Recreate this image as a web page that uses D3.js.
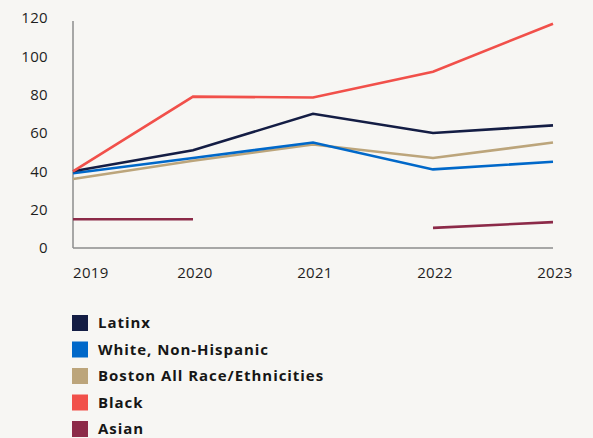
<!DOCTYPE html>
<html>
<head>
<meta charset="utf-8">
<script src="https://cdn.jsdelivr.net/npm/d3@7"></script>
<style>
  html, body { margin: 0; padding: 0; background: #f7f6f3; }
  svg { display: block; }
</style>
</head>
<body>
<svg id="chart" width="593" height="438"></svg>
<script>
// Rates by race/ethnicity, 2019–2023
const years = ["2019", "2020", "2021", "2022", "2023"];
const latinx = [40, 51, 70, 60, 64];
const white = [39, 47, 55, 41, 45];
const bostonAll = [36, 45.5, 54, 47, 55];
const black = [40, 79, 78.5, 92, 117];
const asian = [15, 15, null, 10.5, 13.5];
const yTicks = [0, 20, 40, 60, 80, 100, 120];

const seriesNames = ["Latinx", "White, Non-Hispanic", "Boston All Race/Ethnicities", "Black", "Asian"];
const seriesColors = ["#141d44", "#0068c9", "#bca57b", "#f1504a", "#8c2a48"];

const series = [
  { name: seriesNames[0], color: seriesColors[0], values: latinx },
  { name: seriesNames[1], color: seriesColors[1], values: white },
  { name: seriesNames[2], color: seriesColors[2], values: bostonAll },
  { name: seriesNames[3], color: seriesColors[3], values: black },
  { name: seriesNames[4], color: seriesColors[4], values: asian }
];

const svg = d3.select("#chart");
const plotLeft = 73, plotRight = 553, plotTop = 18, plotBottom = 248;
const fontFamily = "'Open Sans', 'Noto Sans', sans-serif";

const x = d3.scalePoint().domain(years).range([plotLeft, plotRight]);
const y = d3.scaleLinear().domain([0, 120]).range([plotBottom, plotTop]);

// Y axis labels
svg.append("g")
  .selectAll("text")
  .data(yTicks)
  .join("text")
  .attr("x", 48)
  .attr("y", d => y(d))
  .attr("dy", "0.35em")
  .attr("text-anchor", "end")
  .attr("font-family", fontFamily)
  .attr("font-size", 15)
  .attr("letter-spacing", "0.3px")
  .attr("fill", "#1e1e1e")
  .text(d => d);

// X axis labels
svg.append("g")
  .selectAll("text")
  .data(years)
  .join("text")
  .attr("x", (d, i) => i === 0 ? plotLeft : x(d) + 2)
  .attr("y", 278)
  .attr("text-anchor", (d, i) => i === 0 ? "start" : "middle")
  .attr("font-family", fontFamily)
  .attr("font-size", 15)
  .attr("letter-spacing", "0.3px")
  .attr("fill", "#1e1e1e")
  .text(d => d);

// Axis lines
svg.append("line")
  .attr("x1", plotLeft).attr("x2", plotLeft)
  .attr("y1", 21).attr("y2", plotBottom)
  .attr("stroke", "#8c8c8c").attr("stroke-width", 1.5);
svg.append("line")
  .attr("x1", plotLeft).attr("x2", plotRight)
  .attr("y1", plotBottom).attr("y2", plotBottom)
  .attr("stroke", "#8c8c8c").attr("stroke-width", 1.5);

// Series lines (gaps where data is missing)
const line = d3.line()
  .defined(d => d.v !== null)
  .x(d => x(d.year))
  .y(d => y(d.v));

const drawOrder = [4, 2, 1, 0, 3];
svg.append("g")
  .selectAll("path")
  .data(drawOrder.map(i => series[i]))
  .join("path")
  .attr("fill", "none")
  .attr("stroke", d => d.color)
  .attr("stroke-width", 2.6)
  .attr("stroke-linejoin", "miter")
  .attr("d", d => line(d.values.map((v, i) => ({ year: years[i], v }))));

// Legend
const legend = svg.append("g")
  .selectAll("g")
  .data(series)
  .join("g")
  .attr("transform", (d, i) => `translate(72, ${323 + i * 26.5})`);
legend.append("rect")
  .attr("x", 0).attr("y", -8)
  .attr("width", 16).attr("height", 16)
  .attr("fill", d => d.color);
legend.append("text")
  .attr("x", 26).attr("y", 0)
  .attr("dy", "0.35em")
  .attr("font-family", fontFamily)
  .attr("font-weight", 700)
  .attr("font-size", 15)
  .attr("letter-spacing", "0.95px")
  .attr("fill", "#161616")
  .text(d => d.name);
</script>
</body>
</html>
